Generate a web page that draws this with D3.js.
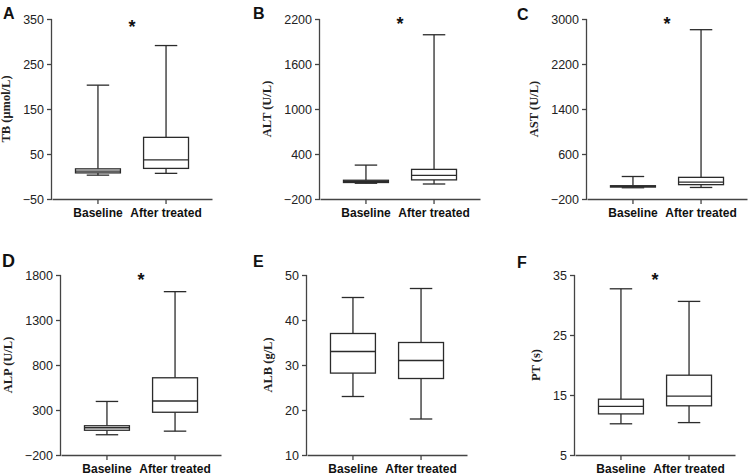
<!DOCTYPE html>
<html>
<head>
<meta charset="utf-8">
<script src="https://cdn.jsdelivr.net/npm/d3@7"></script>
<style>
  body { margin: 0; background: #fff; }
  svg { display: block; }
</style>
</head>
<body>
<div id="chart"></div>
<script>
// Data ---------------------------------------------------
const groups = ["Baseline", "After treated"]
const letters = ["A", "B", "C", "D", "E", "F"]
const yLabels = ["TB (μmol/L)", "ALT (U/L)", "AST (U/L)", "ALP (U/L)", "ALB (g/L)", "PT (s)"]
const yDomains = [[-50, 350], [-200, 2200], [-200, 3000], [-200, 1800], [10, 50], [5, 35]]
const yTicks = [
  [-50, 50, 150, 250, 350],
  [-200, 400, 1000, 1600, 2200],
  [-200, 600, 1400, 2200, 3000],
  [-200, 300, 800, 1300, 1800],
  [10, 20, 30, 40, 50],
  [5, 15, 25, 35]
]
// [min, q1, median, q3, max]
const baselineStats = [
  [3, 8, 12, 17, 203],
  [10, 20, 35, 50, 252],
  [0, 12, 24, 36, 200],
  [25, 75, 103, 125, 395],
  [23, 28.2, 33, 37, 45],
  [10.2, 11.85, 13.1, 14.3, 32.7]
]
const afterStats = [
  [7, 18, 37, 87, 291],
  [0, 55, 115, 195, 1990],
  [5, 55, 100, 185, 2810],
  [65, 275, 400, 658, 1615],
  [18, 27, 31, 35, 47],
  [10.4, 13.2, 14.8, 18.3, 30.6]
]
const significant = [true, true, true, true, false, true]

// Layout -------------------------------------------------
const W = 749, H = 475
const PLOT_W = 160, PLOT_H = 180
const axisX = [52, 320, 587, 61, 307, 575]
const topY = [19, 19, 19, 275, 275, 275]
const letterPos = [[3, 19, 16], [253, 19, 16], [517, 20, 16], [2, 267, 18], [253, 267, 16], [517, 268, 16]]
const LINE = "#2b2b2b"

const svg = d3.select("#chart").append("svg")
  .attr("width", W)
  .attr("height", H)

letters.forEach((letter, i) => {
  const g = svg.append("g")
    .attr("transform", `translate(${axisX[i]}, ${topY[i]})`)

  const x = d3.scaleBand()
    .domain(groups)
    .range([0, PLOT_W])
    .paddingInner(0.34)
    .paddingOuter(0.345)

  const y = d3.scaleLinear()
    .domain(yDomains[i])
    .range([PLOT_H, 0])

  // axes
  const yAxis = g.append("g")
    .call(d3.axisLeft(y).tickValues(yTicks[i]).tickSize(5).tickPadding(3).tickFormat(d3.format("d")))
  const xAxis = g.append("g")
    .attr("transform", `translate(0,${PLOT_H})`)
    .call(d3.axisBottom(x).tickSize(5).tickPadding(4).tickSizeOuter(0))

  yAxis.select(".domain").attr("d", `M-0.5,0V${PLOT_H}`)
  ;[yAxis, xAxis].forEach(a => {
    a.selectAll(".domain, line").attr("stroke", "#444").attr("stroke-width", 1.3)
  })
  yAxis.selectAll("text")
    .attr("font-family", "Liberation Sans, Arial, sans-serif")
    .attr("font-size", "12.5px")
    .attr("fill", "#222")
  xAxis.selectAll("text")
    .attr("font-family", "Liberation Sans, Arial, sans-serif")
    .attr("font-size", "12px")
    .attr("font-weight", "bold")
    .attr("fill", "#111")

  // axis title placed past the widest tick label
  let maxW = 0
  yAxis.selectAll("text").each(function() { maxW = Math.max(maxW, this.getComputedTextLength()) })
  g.append("text")
    .attr("transform", `translate(${-(maxW + 25)}, ${PLOT_H / 2}) rotate(-90)`)
    .attr("text-anchor", "middle")
    .attr("dy", "0.35em")
    .attr("font-family", "Liberation Serif, Times New Roman, serif")
    .attr("font-weight", "bold")
    .attr("font-size", "12.5px")
    .attr("fill", "#222")
    .text(yLabels[i])

  // boxes
  const stats = [baselineStats[i], afterStats[i]]
  const bw = x.bandwidth()
  stats.forEach((s, k) => {
    const x0 = x(groups[k])
    const cx = x0 + bw / 2
    const box = g.append("g")
      .attr("stroke", LINE)
      .attr("stroke-width", 1.3)
      .attr("fill", "none")
    box.append("line").attr("x1", cx).attr("x2", cx).attr("y1", y(s[4])).attr("y2", y(s[3]))
    box.append("line").attr("x1", cx).attr("x2", cx).attr("y1", y(s[1])).attr("y2", y(s[0]))
    box.append("line").attr("x1", cx - bw / 4).attr("x2", cx + bw / 4).attr("y1", y(s[4])).attr("y2", y(s[4]))
    box.append("line").attr("x1", cx - bw / 4).attr("x2", cx + bw / 4).attr("y1", y(s[0])).attr("y2", y(s[0]))
    box.append("rect")
      .attr("x", x0).attr("width", bw)
      .attr("y", y(s[3])).attr("height", y(s[1]) - y(s[3]))
      .attr("fill", "#fff")
    box.append("line").attr("x1", x0).attr("x2", x0 + bw).attr("y1", y(s[2])).attr("y2", y(s[2]))
  })

  // significance star between the groups
  if (significant[i]) {
    const mid = (x(groups[0]) + x(groups[1]) + bw) / 2
    g.append("text")
      .attr("x", mid)
      .attr("y", i === 0 ? 14 : 11)
      .attr("text-anchor", "middle")
      .attr("font-family", "Liberation Sans, Arial, sans-serif")
      .attr("font-weight", "bold")
      .attr("font-size", "18px")
      .attr("fill", "#111")
      .text("*")
  }

  // panel letter
  svg.append("text")
    .attr("x", letterPos[i][0])
    .attr("y", letterPos[i][1])
    .attr("font-family", "Liberation Sans, Arial, sans-serif")
    .attr("font-weight", "bold")
    .attr("font-size", letterPos[i][2] + "px")
    .attr("fill", "#111")
    .text(letter)
})
</script>
</body>
</html>
